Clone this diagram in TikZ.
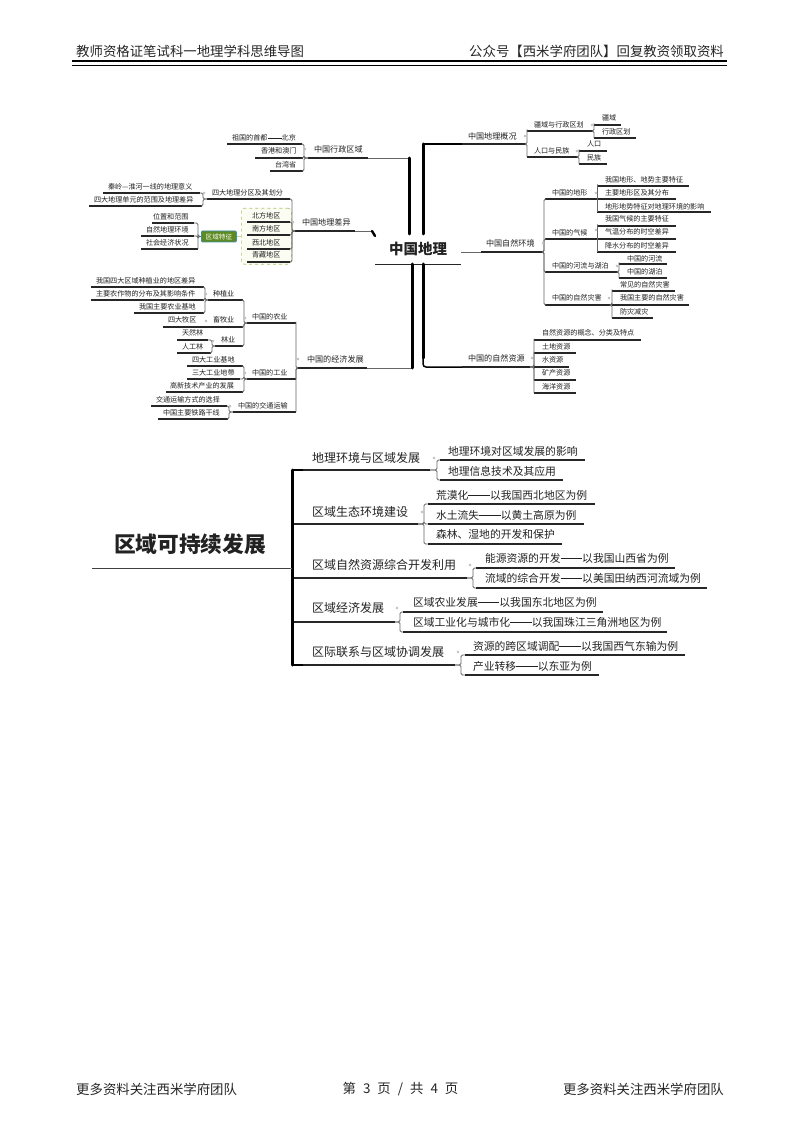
\documentclass[tikz,border=0pt]{standalone}
\usepackage{fontspec}
\setmainfont{Noto Sans CJK SC}
\definecolor{ink}{HTML}{222222}
\definecolor{conn}{HTML}{666666}
\definecolor{tagfill}{HTML}{5E8A22}
\definecolor{tagline}{HTML}{3F8FB0}
\definecolor{grpline}{HTML}{A9C46C}
\definecolor{grpfill}{HTML}{FBFDF2}
\newcommand{\dd}{\rule[.36em]{2em}{.055em}}
\newcommand{\sk}{\hspace{7pt}}
\tikzset{x=1pt,y=-1pt,
  tpnode/.style={inner sep=0pt,outer sep=0pt,anchor=south west,text=ink},
  under/.style={line width=1.1pt,color=black!85},
  thinline/.style={line width=.9pt,color=black!60},
  conline/.style={line width=.8pt,color=conn,rounded corners=1.5pt},
  trunk/.style={line width=3pt,color=black,rounded corners=2pt,line cap=round},
  dotmark/.style={circle,draw=black!35,fill=white,line width=.4pt,minimum size=2.4pt,inner sep=0pt},
  hf/.style={font=\fontsize{13.4}{14}\selectfont,text=black!85,inner sep=0pt,anchor=west},
  grpbox/.style={draw=grpline,fill=grpfill,dashed,rounded corners=3pt,line width=.6pt,inner sep=0pt},
  tagbox/.style={draw=tagline,fill=tagfill,text=white,rounded corners=1pt,line width=.8pt,inner sep=0pt,font=\fontsize{6.6}{7}\selectfont}
}
\def\fsz{7.1}
% [line style]{name}{x1}{x2}{yline}{text x}{text yc}{text}
\newcommand{\tp}[8][]{%
  \pgfmathsetmacro\tpW{#4-#3}%
  \pgfmathsetmacro\tpP{#6-#3}%
  \pgfmathsetmacro\tpH{#5-#7+0.62*\fsz}%
  \pgfmathsetmacro\tpD{#5-#7-0.38*\fsz}%
  \node[tpnode] (#2) at (#3,#5) {\fontsize{\fsz pt}{\fsz pt}\selectfont\makebox[\tpW pt][l]{\rule{0pt}{\tpH pt}\hspace{\tpP pt}\raisebox{\tpD pt}{\smash{#8}}}};
  \draw[under,#1] (#2.south west) -- (#2.south east);
}
% bracket: {x}{parent anchor}{child anchors}
\newcommand{\br}[3]{\foreach \cc in {#3} {\draw[conline] (#2) -- (#1,0 |- #2) |- (\cc);}}
\begin{document}
\begin{tikzpicture}
\useasboundingbox (0,0) rectangle (800,1131);
\fill[white] (0,0) rectangle (800,1131);

% header / footer
\node[hf] (hl) at (76,51) {教师资格证笔试科一地理学科思维导图};
\node[hf,anchor=east] (hr) at (724,51) {公众号【西米学府团队】回复教资领取资料};
\coordinate (ra) at (72,61); \coordinate (rb) at (727,61);
\coordinate (rc) at (72,65.5); \coordinate (rd) at (727,65.5);
\draw[line width=2.2pt,black] (ra) -- (rb);
\draw[line width=.8pt,black] (rc) -- (rd);
\node[hf] (fl) at (76,1089) {更多资料关注西米学府团队};
\node[hf,anchor=center] (fc) at (400.5,1089) {第\sk 3\sk 页\sk /\sk 共\sk 4\sk 页};
\node[hf,anchor=east] (fr) at (724,1089) {更多资料关注西米学府团队};

% ===== 中国地理 =====
\node[grpbox,minimum width=50pt,minimum height=56pt,anchor=north west] (grp) at (241,208) {};

\def\fsz{14.5}
\tp[line width=.9pt]{root}{375}{461}{264}{389}{249}{\bfseries 中国地理}

\def\fsz{8.1}
\tp{xz}{308}{368}{158}{314}{149}{中国行政区域}
\tp{cy}{295}{355}{231}{302}{222}{中国地理差异}
\tp{jj}{297}{367}{368}{307}{359}{中国的经济发展}
\tp{gk}{462}{526}{144}{468}{136}{中国地理概况}
\tp{zr}{481}{543}{252}{486}{243}{中国自然环境}
\tp{zy}{462}{530}{367}{468}{358}{中国的自然资源}

\def\fsz{7.1}
\tp{a1}{227}{302}{144}{232}{138}{祖国的首都\dd 北京}
\tp{a2}{255}{303}{158}{261}{151}{香港和澳门}
\tp{a3}{270}{303}{171}{275}{165}{台湾省}
\br{304}{xz.south west}{a1.south east,a2.south east,a3.south east}

\tp{b1}{103}{200}{193}{108}{187}{秦岭—淮河一线的地理意义}
\tp{b2}{89}{202}{206}{94}{200}{四大地理单元的范围及地理差异}
\tp{fq}{207}{290}{199}{212}{193}{四大地理分区及其划分}
\br{203}{fq.south west}{b1.south east,b2.south east}
\tp{g1}{247}{290}{222}{252}{216}{北方地区}
\tp{g2}{247}{290}{235}{252}{229}{南方地区}
\tp{g3}{247}{290}{249}{252}{243}{西北地区}
\tp{g4}{247}{290}{262}{252}{255}{青藏地区}
\br{292}{cy.south west}{fq.south east,g1.south east,g2.south east,g3.south east,g4.south east}
\node[tagbox,minimum width=35pt,minimum height=11pt,anchor=west] (tag) at (201,236.5) {区域特征};
\draw[line width=.6pt,grpline] (tag.east) -- (grp.west);
\tp{c1}{152}{194}{223}{153}{217}{位置和范围}
\tp{c2}{141}{194}{236}{146}{230}{自然地理环境}
\tp{c3}{141}{198}{249}{146}{243}{社会经济状况}
\br{198}{tag.west}{c1.south east,c2.south east,c3.south east}

\tp{ny}{247}{296}{323}{252}{317}{中国的农业}
\tp{gy}{247}{296}{379}{252}{373}{中国的工业}
\tp{jt}{233}{296}{412}{238}{406}{中国的交通运输}
\br{296}{jj.south west}{ny.south east,gy.south east,jt.south east}
\tp{zz}{208}{243}{300}{213}{294}{种植业}
\tp{xm}{208}{243}{327}{213}{320}{畜牧业}
\tp{ly}{215}{243}{346}{221}{340}{林业}
\br{244}{ny.south west}{zz.south east,xm.south east,ly.south east}
\tp{d1}{91}{204}{287}{96}{281}{我国四大区域种植业的地区差异}
\tp{d2}{91}{204}{300}{96}{294}{主要农作物的分布及其影响条件}
\tp{d3}{134}{204}{313}{139}{307}{我国主要农业基地}
\br{205}{zz.south west}{d1.south east,d2.south east,d3.south east}
\tp{d4}{163}{204}{327}{168}{320}{四大牧区}
\draw[under] (xm.south west) -- (d4.south east);
\tp{d5}{177}{208}{340}{182}{333}{天然林}
\tp{d6}{177}{211}{353}{182}{347}{人工林}
\br{212}{ly.south west}{d5.south east,d6.south east}
\tp{e1}{187}{243}{366}{192}{360}{四大工业基地}
\tp{e2}{187}{240}{379}{192}{373}{三大工业地带}
\tp{e3}{166}{243}{392}{170}{386}{高新技术产业的发展}
\br{244}{gy.south west}{e1.south east,e2.south east,e3.south east}
\tp{f1}{151}{227}{406}{156}{400}{交通运输方式的选择}
\tp{f2}{158}{228}{419}{163}{413}{中国主要铁路干线}
\br{229}{jt.south west}{f1.south east,f2.south east}

% right
\tp{h1}{527}{593}{131}{534}{125}{疆域与行政区划}
\tp{h2}{527}{578}{157}{534}{151}{人口与民族}
\br{527}{gk.south east}{h1.south west,h2.south west}
\tp{h3}{594}{621}{125}{602}{118}{疆域}
\tp{h4}{594}{636}{138}{602}{132}{行政区划}
\br{594}{h1.south east}{h3.south west,h4.south west}
\tp{h5}{579}{607}{151}{587}{144}{人口}
\tp{h6}{579}{607}{164}{587}{158}{民族}
\br{579}{h2.south east}{h5.south west,h6.south west}

\tp{k1}{545}{597}{199}{552}{193}{中国的地形}
\tp{k2}{545}{597}{239}{552}{233}{中国的气候}
\tp{k3}{545}{618}{272}{552}{266}{中国的河流与湖泊}
\tp{k4}{545}{611}{305}{552}{298}{中国的自然灾害}
\br{544}{zr.south east}{k1.south west,k2.south west,k3.south west,k4.south west}
\tp{m1}{597}{689}{186}{605}{180}{我国地形、地势主要特征}
\tp{m2}{597}{676}{199}{605}{193}{主要地形区及其分布}
\tp{m3}{597}{711}{212}{605}{207}{地形地势特征对地理环境的影响}
\br{597}{k1.south east}{m1.south west,m2.south west,m3.south west}
\tp{n1}{597}{676}{226}{605}{219}{我国气候的主要特征}
\tp{n2}{597}{676}{239}{605}{232}{气温分布的时空差异}
\tp{n3}{597}{676}{252}{605}{246}{降水分布的时空差异}
\br{597}{k2.south east}{n1.south west,n2.south west,n3.south west}
\tp{o1}{619}{667}{264}{627}{259}{中国的河流}
\tp{o2}{619}{667}{278}{627}{272}{中国的湖泊}
\br{619}{k3.south east}{o1.south west,o2.south west}
\tp{p1}{612}{675}{291}{620}{285}{常见的自然灾害}
\tp{p2}{612}{689}{305}{620}{298}{我国主要的自然灾害}
\tp{p3}{612}{653}{318}{620}{312}{防灾减灾}
\br{612}{k4.south east}{p1.south west,p2.south west,p3.south west}
\tp{q1}{534}{641}{340}{542}{333}{自然资源的概念、分类及特点}
\tp{q2}{534}{576}{353}{542}{347}{土地资源}
\tp{q3}{534}{569}{367}{542}{360}{水资源}
\tp{q4}{534}{576}{380}{542}{373}{矿产资源}
\tp{q5}{534}{576}{393}{542}{387}{海洋资源}
\br{534}{zy.south east}{q1.south west,q2.south west,q3.south west,q4.south west,q5.south west}

% central trunks
\coordinate (ta) at (409,158); \coordinate (tb) at (409,234);
\coordinate (tc) at (412,264); \coordinate (td) at (412,368);
\coordinate (te) at (423,234); \coordinate (tf) at (423,144);
\coordinate (tg) at (423,264); \coordinate (th) at (423,367);
\coordinate (tk) at (423,358);
\coordinate (ti) at (372,231); \coordinate (tj) at (375,236);
\draw[thinline] (xz.south east) -- (ta);
\draw[trunk] (ta) -- (tb);
\draw[thinline] (cy.south east) -- (ti);
\draw[line width=2.4pt,black,line cap=round] (ti) -- (tj);
\draw[thinline] (jj.south east) -- (td);
\draw[trunk] (tc) -- (td);
\draw[trunk] (te) -- (tf);
\draw[line width=1.5pt,black,rounded corners=2pt] (tf) -- (gk.south west);
\draw[trunk] (tg) -- (tk);
\draw[line width=1.5pt,black,rounded corners=3pt] (tk) -- (th) -- (zy.south west);
\draw[thinline] (root.east |- zr.south west) -- (zr.south west);

% ===== 区域可持续发展 =====
\def\fsz{21.7}
\tp[line width=1pt,black!75]{rt}{92}{290}{568}{114}{544}{\bfseries 区域可持续发展}
\def\fsz{12}
\tp[line width=1.3pt]{s1}{303}{430}{470}{312}{458}{地理环境与区域发展}
\tp[line width=1.3pt]{s2}{293}{418}{524}{312}{512}{区域生态环境建设}
\tp[line width=1.3pt]{s3}{293}{467}{578}{312}{565}{区域自然资源综合开发利用}
\tp[line width=1.3pt]{s4}{293}{395}{622}{312}{608}{区域经济发展}
\tp[line width=1.3pt]{s5}{303}{455}{665}{312}{652}{区际联系与区域协调发展}
\draw[trunk] (292,0 |- s1.south west) -- (292,0 |- s5.south west);
\foreach \cc in {s1,s5} {\draw[line width=1.3pt,black,rounded corners=2pt] (292,0 |- \cc.south west) -- (\cc.south west);}
\draw[thinline] (rt.south east) -- (292,0 |- rt.south east);

\def\fsz{10.8}
\tp[line width=1.3pt]{u1}{440}{585}{460}{448}{451}{地理环境对区域发展的影响}
\tp[line width=1.3pt]{u2}{440}{563}{480}{448}{471}{地理信息技术及其应用}
\br{437}{s1.south east}{u1.south west,u2.south west}
\tp[line width=1.3pt]{v1}{428}{595}{504}{436}{495}{荒漠化\dd 以我国西北地区为例}
\tp[line width=1.3pt]{v2}{428}{584}{524}{436}{515}{水土流失\dd 以黄土高原为例}
\tp[line width=1.3pt]{v3}{428}{562}{544}{436}{534}{森林、湿地的开发和保护}
\br{424}{s2.south east}{v1.south west,v2.south west,v3.south west}
\tp[line width=1.3pt]{w1}{476}{675}{568}{485}{558}{能源资源的开发\dd 以我国山西省为例}
\tp[line width=1.3pt]{w2}{476}{707}{588}{485}{578}{流域的综合开发\dd 以美国田纳西河流域为例}
\br{473}{s3.south east}{w1.south west,w2.south west}
\tp[line width=1.3pt]{y1}{403}{603}{612}{413}{602}{区域农业发展\dd 以我国东北地区为例}
\tp[line width=1.3pt]{y2}{403}{667}{632}{413}{622}{区域工业化与城市化\dd 以我国珠江三角洲地区为例}
\br{400}{s4.south east}{y1.south west,y2.south west}
\tp[line width=1.3pt]{z1}{465}{685}{655}{473}{646}{资源的跨区域调配\dd 以我国西气东输为例}
\tp[line width=1.3pt]{z2}{465}{599}{675}{473}{666}{产业转移\dd 以东亚为例}
\br{461}{s5.south east}{z1.south west,z2.south west}

% small fold marks
\foreach \p [count=\i] in {(305,149),(204,193),(293,222),(206,294),(206,321),(213,341),(245,318),(245,373),(230,406),(298,359),(525,136),(592,125),(577,151),(596,193),(596,230),(543,243),(617,266),(609,298),(532,358),(434,458),(422,512),(470,565),(397,608),(458,652)}
  {\node[dotmark] (dm\i) at \p {};}
\end{tikzpicture}
\end{document}
